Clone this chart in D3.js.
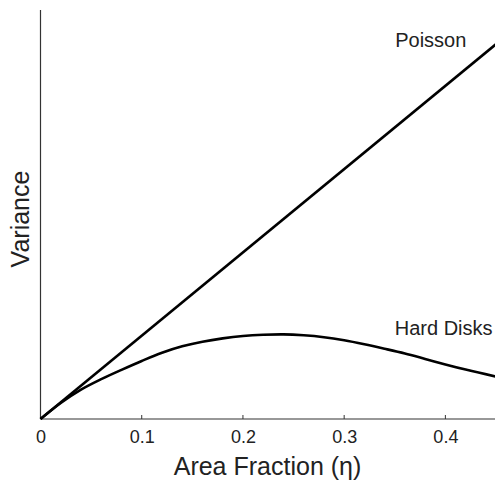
<!DOCTYPE html>
<html>
<head>
<meta charset="utf-8">
<script src="https://cdn.jsdelivr.net/npm/d3@7"></script>
<style>
  body { margin: 0; background: #fff; }
  svg { display: block; font-family: "Liberation Sans", Arial, Helvetica, sans-serif; }
</style>
</head>
<body>
<div id="chart"></div>
<script>
// données
const eta = [0, 0.02, 0.04, 0.06, 0.08, 0.10, 0.12, 0.14, 0.16, 0.18, 0.20, 0.22,
             0.24, 0.26, 0.28, 0.30, 0.32, 0.34, 0.36, 0.38, 0.40, 0.42, 0.45];
const varHardDisks = [0, 0.0192, 0.0352, 0.0478, 0.0590, 0.0697, 0.0795, 0.0872, 0.0928, 0.0968, 0.0996, 0.1011,
                      0.1016, 0.1005, 0.0982, 0.0945, 0.0897, 0.0843, 0.0786, 0.0721, 0.0655, 0.0593, 0.0508];
const etaPoisson = [0, 0.45];
const varPoisson = [0, 0.45];
const xTicks = [0, 0.1, 0.2, 0.3, 0.4];

const width = 495, height = 480;

const svg = d3.select("#chart").append("svg")
    .attr("width", width)
    .attr("height", height);

const x = d3.scaleLinear().domain([0, 0.45]).range([40.5, 496]);
const y = d3.scaleLinear().domain([0, 0.491]).range([419, 10]);

// axes
const axeX = d3.axisBottom(x)
    .tickValues(xTicks)
    .tickSize(0)
    .tickPadding(11)
    .tickFormat(d => d === 0 ? "0" : d3.format(".1f")(d));

const gx = svg.append("g")
    .attr("transform", "translate(0," + y(0) + ")")
    .call(axeX);
gx.select(".domain").remove();
gx.selectAll("text")
    .attr("font-size", 18)
    .attr("fill", "#222")
    .attr("font-family", "Liberation Sans, Arial, sans-serif");

// petites graduations vers l'intérieur
svg.append("g").selectAll("line")
    .data(xTicks.filter(d => d > 0))
    .enter()
    .append("line")
    .attr("x1", d => x(d))
    .attr("x2", d => x(d))
    .attr("y1", y(0))
    .attr("y2", y(0) - 4)
    .attr("stroke", "#333")
    .attr("stroke-width", 1);

svg.append("line")
    .attr("x1", x(0)).attr("x2", width)
    .attr("y1", y(0)).attr("y2", y(0))
    .attr("stroke", "#333").attr("stroke-width", 1.2);

svg.append("line")
    .attr("x1", x(0)).attr("x2", x(0))
    .attr("y1", y(0)).attr("y2", 10)
    .attr("stroke", "#333").attr("stroke-width", 1.2);

// courbes
const line = d3.line()
    .x(d => x(d[0]))
    .y(d => y(d[1]))
    .curve(d3.curveCatmullRom);

svg.append("path")
    .datum(d3.zip(etaPoisson, varPoisson))
    .attr("d", line)
    .attr("fill", "none")
    .attr("stroke", "#000")
    .attr("stroke-width", 2.6);

svg.append("path")
    .datum(d3.zip(eta, varHardDisks))
    .attr("d", line)
    .attr("fill", "none")
    .attr("stroke", "#000")
    .attr("stroke-width", 2.6);

// étiquettes
svg.append("text")
    .attr("x", x(0.3504))
    .attr("y", y(0.447))
    .attr("font-size", 20)
    .attr("fill", "#222")
    .text("Poisson");

svg.append("text")
    .attr("x", x(0.35))
    .attr("y", y(0.1008))
    .attr("font-size", 20)
    .attr("fill", "#222")
    .text("Hard Disks");

// titres des axes
svg.append("text")
    .attr("x", 267.5)
    .attr("y", 475)
    .attr("text-anchor", "middle")
    .attr("font-size", 25)
    .attr("fill", "#222")
    .text("Area Fraction (η)");

svg.append("text")
    .attr("transform", "translate(29,219) rotate(-90)")
    .attr("text-anchor", "middle")
    .attr("font-size", 25)
    .attr("fill", "#222")
    .text("Variance");
</script>
</body>
</html>
